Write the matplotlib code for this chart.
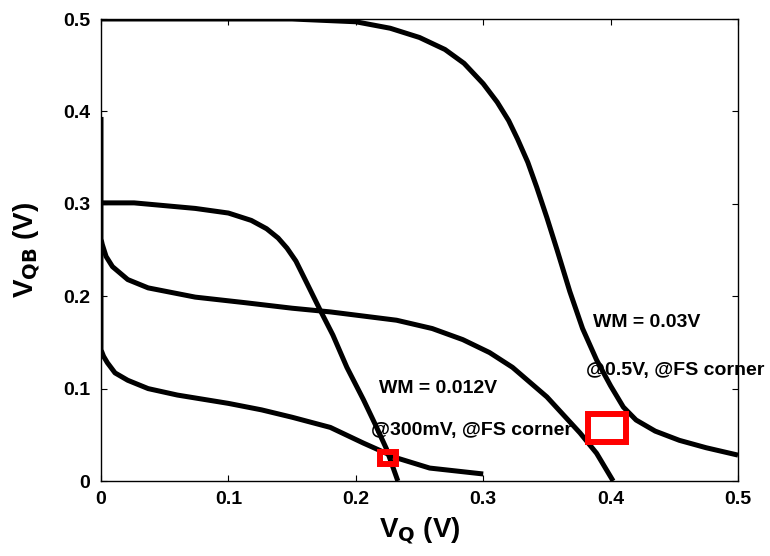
import matplotlib
matplotlib.use("Agg")
import matplotlib.pyplot as plt
from matplotlib.patches import Rectangle

plt.rcParams['font.family'] = ['Liberation Sans', 'DejaVu Sans']

# 0.5 V supply: forward transfer curve
vq_05a = [0.0, 0.15, 0.20, 0.227, 0.25, 0.27, 0.285, 0.30, 0.311, 0.32, 0.327,
          0.335, 0.342, 0.35, 0.358, 0.368, 0.378, 0.389, 0.40, 0.41, 0.42,
          0.435, 0.454, 0.475, 0.5]
vqb_05a = [0.5, 0.5, 0.497, 0.49, 0.48, 0.467, 0.452, 0.43, 0.41, 0.39, 0.37,
           0.345, 0.318, 0.285, 0.25, 0.205, 0.165, 0.131, 0.103, 0.08, 0.066,
           0.054, 0.044, 0.036, 0.028]

# 0.5 V supply: mirrored transfer curve
vq_05b = [0.0, 0.0, 0.001, 0.004, 0.009, 0.021, 0.037, 0.074, 0.113, 0.15, 0.18,
          0.232, 0.26, 0.284, 0.305, 0.323, 0.35, 0.376, 0.389, 0.402]
vqb_05b = [0.394, 0.262, 0.256, 0.243, 0.232, 0.218, 0.209, 0.199, 0.193, 0.187,
           0.183, 0.174, 0.165, 0.153, 0.139, 0.123, 0.091, 0.052, 0.03, 0.0]

# 300 mV supply: forward transfer curve
vq_03a = [0.0, 0.026, 0.074, 0.10, 0.118, 0.13, 0.139, 0.146, 0.153, 0.162, 0.172,
          0.182, 0.193, 0.206, 0.215, 0.224, 0.233]
vqb_03a = [0.301, 0.301, 0.295, 0.29, 0.282, 0.273, 0.263, 0.252, 0.238, 0.213,
           0.185, 0.158, 0.123, 0.088, 0.062, 0.035, 0.0]

# 300 mV supply: mirrored transfer curve
vq_03b = [0.0, 0.0, 0.002, 0.005, 0.011, 0.021, 0.037, 0.06, 0.10, 0.126, 0.15,
          0.18, 0.206, 0.232, 0.258, 0.30]
vqb_03b = [0.25, 0.142, 0.135, 0.128, 0.117, 0.109, 0.10, 0.093, 0.084, 0.077,
           0.069, 0.058, 0.041, 0.025, 0.014, 0.0076]

# write-margin squares: (left, bottom, side)
wm_05 = (0.382, 0.042, 0.03)
wm_03 = (0.2193, 0.0189, 0.012)

ticks = [0, 0.1, 0.2, 0.3, 0.4, 0.5]
tick_labels = ['0', '0.1', '0.2', '0.3', '0.4', '0.5']

fig = plt.figure(figsize=(7.7, 5.56), dpi=100)
ax = fig.add_axes([101 / 770, 75 / 556, 637 / 770, 462 / 556])

for xs, ys in [(vq_05a, vqb_05a), (vq_05b, vqb_05b), (vq_03a, vqb_03a), (vq_03b, vqb_03b)]:
    ax.plot(xs, ys, color='black', lw=3.6, solid_capstyle='butt', solid_joinstyle='round')

for x0, y0, s in [wm_05, wm_03]:
    ax.add_patch(Rectangle((x0, y0), s, s, fill=False, edgecolor='#ff0000', lw=4.3,
                           joinstyle='miter', zorder=5))

ax.set_xlim(0, 0.5)
ax.set_ylim(0, 0.5)
ax.set_xticks(ticks)
ax.set_xticklabels(tick_labels)
ax.set_yticks(ticks)
ax.set_yticklabels(tick_labels)
ax.tick_params(direction='in', length=4, width=0.8, top=True, right=True,
               labelsize=14)
ax.tick_params(axis='x', pad=7)
ax.tick_params(axis='y', pad=8)
for lab in ax.get_xticklabels() + ax.get_yticklabels():
    lab.set_fontweight('bold')
for sp in ax.spines.values():
    sp.set_linewidth(1.0)

ax.set_xlabel(r'V$_\mathbf{Q}$ (V)', fontsize=20, fontweight='bold', labelpad=6)
ax.set_ylabel(r'V$_\mathbf{QB}$ (V)', fontsize=20, fontweight='bold', labelpad=14)

txt = dict(fontsize=14, fontweight='bold', va='center', ha='left')
ax.text(0.386, 0.172, 'WM = 0.03V', **txt)
ax.text(0.381, 0.120, '@0.5V, @FS corner', **txt)
ax.text(0.218, 0.1, 'WM = 0.012V', **txt)
ax.text(0.212, 0.055, '@300mV, @FS corner', **txt)

fig.savefig('out.png', dpi=100)
